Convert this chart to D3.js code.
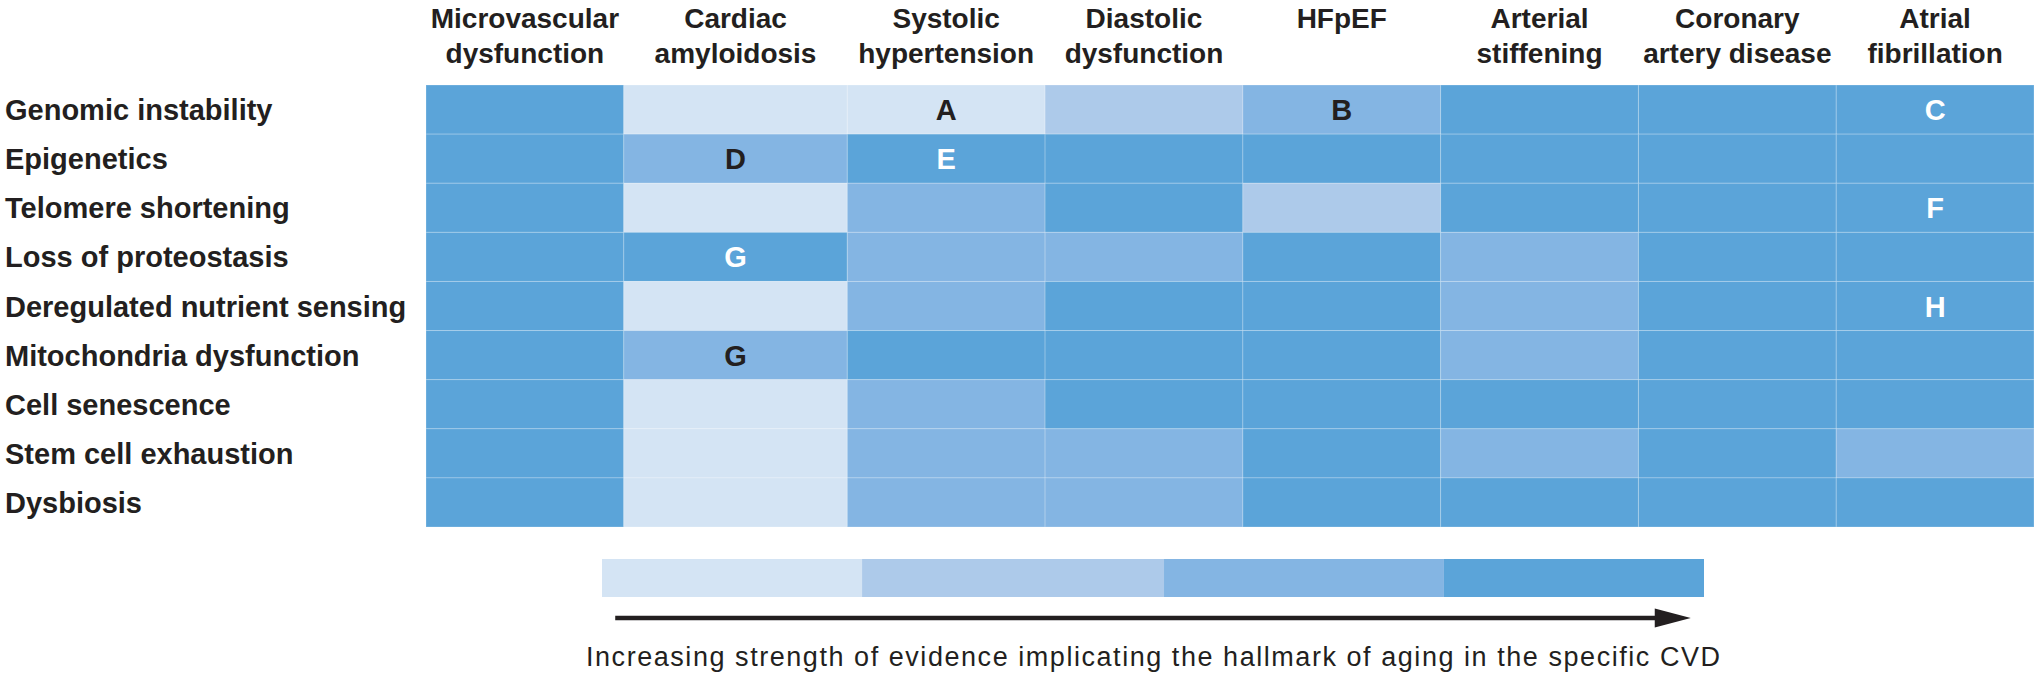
<!DOCTYPE html>
<html>
<head>
<meta charset="utf-8">
<script src="https://cdn.jsdelivr.net/npm/d3@7"></script>
<style>
  html, body { margin: 0; padding: 0; background: #ffffff; }
  svg { display: block; }
  text { font-family: "Liberation Sans", Arial, sans-serif; fill: #231f20; }
</style>
</head>
<body>
<svg id="chart" width="2040" height="683"></svg>
<script>
// ---------------- DATA ----------------
const diseases = [
  "Microvascular dysfunction",
  "Cardiac amyloidosis",
  "Systolic hypertension",
  "Diastolic dysfunction",
  "HFpEF",
  "Arterial stiffening",
  "Coronary artery disease",
  "Atrial fibrillation"
];
// header line breaks
const diseaseLabelLines = [
  ["Microvascular", "dysfunction"],
  ["Cardiac", "amyloidosis"],
  ["Systolic", "hypertension"],
  ["Diastolic", "dysfunction"],
  ["HFpEF"],
  ["Arterial", "stiffening"],
  ["Coronary", "artery disease"],
  ["Atrial", "fibrillation"]
];
const hallmarks = [
  "Genomic instability",
  "Epigenetics",
  "Telomere shortening",
  "Loss of proteostasis",
  "Deregulated nutrient sensing",
  "Mitochondria dysfunction",
  "Cell senescence",
  "Stem cell exhaustion",
  "Dysbiosis"
];
// evidence level 1 (weakest) .. 4 (strongest); rows = hallmarks, cols = diseases
const evidence = [
  [4, 1, 1, 2, 3, 4, 4, 4],
  [4, 3, 4, 4, 4, 4, 4, 4],
  [4, 1, 3, 4, 2, 4, 4, 4],
  [4, 4, 3, 3, 4, 3, 4, 4],
  [4, 1, 3, 4, 4, 3, 4, 4],
  [4, 3, 4, 4, 4, 3, 4, 4],
  [4, 1, 3, 4, 4, 4, 4, 4],
  [4, 1, 3, 3, 4, 3, 4, 3],
  [4, 1, 3, 3, 4, 4, 4, 4]
];
// footnote letters: [hallmark index, disease index, letter]
const annotations = [
  [0, 2, "A"], [0, 4, "B"], [0, 7, "C"],
  [1, 1, "D"], [1, 2, "E"],
  [2, 7, "F"],
  [3, 1, "G"],
  [4, 7, "H"],
  [5, 1, "G"]
];
const levels = [1, 2, 3, 4];
const levelColors = ["#d4e4f4", "#adcaea", "#84b5e3", "#5ba4d9"];
// legend thresholds along the evidence-strength axis
const legendBreaks = [0, 0.236, 0.51, 0.764, 1];
const legendCaption = "Increasing strength of evidence implicating the hallmark of aging in the specific CVD";

// ---------------- LAYOUT ----------------
const colWeights = [1, 1.13, 1, 1, 1, 1, 1, 1];
const grid = { left: 426, right: 2034, top: 85, bottom: 527 };
const textColor = "#231f20";

const svg = d3.select("#chart");

const cum = [0];
colWeights.forEach((w, i) => cum.push(cum[i] + w));
const xUnits = d3.scaleLinear().domain([0, cum[cum.length - 1]]).range([grid.left, grid.right]);
const colX0 = i => xUnits(cum[i]);
const colX1 = i => xUnits(cum[i + 1]);
const colMid = i => (colX0(i) + colX1(i)) / 2;

const y = d3.scaleBand().domain(hallmarks).range([grid.top, grid.bottom]).padding(0);
const color = d3.scaleOrdinal().domain(levels).range(levelColors);

// cells
const cells = [];
evidence.forEach((row, r) => row.forEach((v, c) => cells.push({ r, c, v })));
svg.append("g").selectAll("rect").data(cells).join("rect")
  .attr("x", d => colX0(d.c))
  .attr("y", d => y(hallmarks[d.r]))
  .attr("width", d => colX1(d.c) - colX0(d.c))
  .attr("height", y.bandwidth())
  .attr("fill", d => color(d.v))
  .attr("stroke", "rgba(255,255,255,0.22)")
  .attr("stroke-width", 1);

// letters
svg.append("g").selectAll("text").data(annotations).join("text")
  .attr("x", d => colMid(d[1]))
  .attr("y", d => y(hallmarks[d[0]]) + y.bandwidth() / 2 + 10.5)
  .attr("text-anchor", "middle")
  .style("font-size", "29px")
  .style("font-weight", "bold")
  .style("fill", d => evidence[d[0]][d[1]] === 4 ? "#ffffff" : textColor)
  .text(d => d[2]);

// row labels
svg.append("g").selectAll("text").data(hallmarks).join("text")
  .attr("x", 5)
  .attr("y", d => y(d) + y.bandwidth() / 2 + 10.5)
  .style("font-size", "29px")
  .style("font-weight", "bold")
  .text(d => d);

// column headers
const hdr = svg.append("g").selectAll("text").data(diseaseLabelLines).join("text")
  .attr("text-anchor", "middle")
  .style("font-size", "28px")
  .style("font-weight", "bold");
hdr.each(function(lines, i) {
  d3.select(this).selectAll("tspan").data(lines).join("tspan")
    .attr("x", colMid(i))
    .attr("y", (d, k) => 28 + k * 35)
    .text(d => d);
});

// legend
const lg = { left: 602, right: 1704, top: 559, bottom: 597 };
const lx = d3.scaleLinear().domain([0, 1]).range([lg.left, lg.right]);
svg.append("g").selectAll("rect").data(levels).join("rect")
  .attr("x", (d, i) => lx(legendBreaks[i]))
  .attr("y", lg.top)
  .attr("width", (d, i) => lx(legendBreaks[i + 1]) - lx(legendBreaks[i]))
  .attr("height", lg.bottom - lg.top)
  .attr("fill", d => color(d));

// arrow
const arrowY = 618;
const ax0 = lx(0.012), axTip = lx(0.988);
svg.append("line")
  .attr("x1", ax0).attr("x2", axTip - 30)
  .attr("y1", arrowY).attr("y2", arrowY)
  .attr("stroke", textColor).attr("stroke-width", 4.5);
svg.append("path")
  .attr("d", `M${axTip - 36},${arrowY - 9.5}L${axTip},${arrowY}L${axTip - 36},${arrowY + 9.5}Z`)
  .attr("fill", textColor);

svg.append("text")
  .attr("x", (lg.left + lg.right) / 2)
  .attr("y", 666)
  .attr("text-anchor", "middle")
  .attr("textLength", 1134)
  .attr("lengthAdjust", "spacing")
  .style("font-size", "27px")
  .text(legendCaption);
</script>
</body>
</html>
